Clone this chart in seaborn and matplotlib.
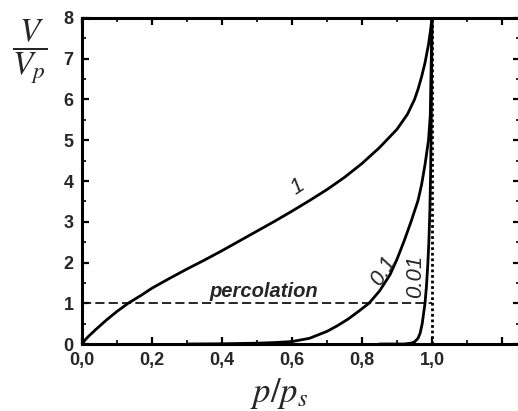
import matplotlib
matplotlib.use("Agg")
import matplotlib.pyplot as plt
import seaborn as sns
import pandas as pd
from matplotlib.ticker import MultipleLocator, FixedLocator, FixedFormatter

# ---- data ----
x_c1 = [0, 0.01, 0.02, 0.04, 0.07, 0.10, 0.132, 0.17, 0.20, 0.25, 0.30, 0.35, 0.40, 0.45,
        0.50, 0.55, 0.60, 0.65, 0.70, 0.75, 0.80, 0.85, 0.90, 0.93, 0.95, 0.96, 0.97,
        0.98, 0.99, 0.995, 1.0]
y_c1 = [0, 0.11, 0.20, 0.36, 0.59, 0.80, 1.0, 1.20, 1.37, 1.61, 1.84, 2.06, 2.29, 2.53,
        2.77, 3.01, 3.26, 3.52, 3.79, 4.09, 4.43, 4.82, 5.27, 5.64, 6.0, 6.25, 6.55,
        6.9, 7.35, 7.65, 8.0]

x_c01 = [0.30, 0.40, 0.50, 0.55, 0.60, 0.65, 0.70, 0.73, 0.76, 0.79, 0.82, 0.85, 0.88,
         0.90, 0.92, 0.94, 0.96, 0.97, 0.98, 0.99, 0.995, 1.0]
y_c01 = [0, 0.005, 0.02, 0.035, 0.06, 0.14, 0.31, 0.45, 0.61, 0.80, 1.0, 1.3, 1.7,
         2.08, 2.52, 3.0, 3.52, 3.9, 4.4, 5.0, 5.6, 8.0]

x_c001 = [0.85, 0.92, 0.94, 0.95, 0.96, 0.966, 0.972, 0.976, 0.98, 0.984, 0.988, 0.991,
          0.994, 0.996, 0.998, 1.0]
y_c001 = [0, 0.0, 0.02, 0.05, 0.14, 0.26, 0.5, 0.75, 1.0, 1.4, 1.95, 2.5,
          3.3, 4.2, 5.5, 8.0]

curve_labels = ["1", "0.1", "0.01"]
percolation_level = 1.0
saturation_x = 1.0
x_ticks = [0.0, 0.2, 0.4, 0.6, 0.8, 1.0, 1.2]
x_tick_labels = ["0,0", "0,2", "0,4", "0,6", "0,8", "1,0", ""]
y_ticks = [0, 1, 2, 3, 4, 5, 6, 7, 8]

frames = []
for lab, xs, ys in zip(curve_labels, [x_c1, x_c01, x_c001], [y_c1, y_c01, y_c001]):
    frames.append(pd.DataFrame({"x": xs, "y": ys, "curve": lab}))
df = pd.concat(frames, ignore_index=True)

sns.set_theme(style="ticks")
plt.rcParams["mathtext.fontset"] = "stix"
plt.rcParams["font.family"] = ["Liberation Sans", "DejaVu Sans"]

fig = plt.figure(figsize=(5.18, 4.11), dpi=100)
ax = fig.add_axes([82 / 518, (411 - 344) / 411, 437.5 / 518, 326 / 411])

sns.lineplot(data=df, x="x", y="y", units="curve", estimator=None, sort=False,
             color="black", linewidth=2.0, ax=ax, legend=False)

ax.plot([0, saturation_x], [percolation_level, percolation_level], color="black",
        linestyle=(0, (5.5, 2.5)), linewidth=1.2)
ax.plot([saturation_x, saturation_x], [0, 8], color="black", linestyle=(0, (1, 1)),
        linewidth=2.0)

ax.set_xlim(0, 1.25)
ax.set_ylim(0, 8)

ax.xaxis.set_major_locator(FixedLocator(x_ticks))
ax.xaxis.set_major_formatter(FixedFormatter(x_tick_labels))
ax.xaxis.set_minor_locator(MultipleLocator(0.1))
ax.yaxis.set_major_locator(FixedLocator(y_ticks))
ax.yaxis.set_minor_locator(MultipleLocator(0.5))

ax.tick_params(which="both", direction="in", top=True, right=True, color="black")
ax.tick_params(which="major", length=5, width=1.6, labelsize=13, pad=4)
ax.tick_params(which="minor", length=3, width=1.2)
ax.tick_params(axis="x", which="major", pad=6)
ax.tick_params(axis="y", which="major", pad=6)
for lab in ax.get_xticklabels() + ax.get_yticklabels():
    lab.set_fontweight("bold")

for sp in ax.spines.values():
    sp.set_linewidth(2.2)
    sp.set_color("black")

ax.set_xlabel("")
ax.set_ylabel("")

# curve annotations
ax.text(0.617, 3.85, "1", rotation=33, fontsize=16, style="italic",
        ha="center", va="center")
ax.text(0.862, 1.78, "0.1", rotation=58, fontsize=16, style="italic",
        ha="center", va="center")
ax.text(0.952, 1.65, "0.01", rotation=90, fontsize=16, style="italic",
        ha="center", va="center")
ax.text(0.52, 1.05, "percolation", fontsize=14.5, style="italic", fontweight="bold",
        ha="center", va="bottom")

fig.text(279 / 518, 1 - 393 / 411, r"$p/p_s$", fontsize=25, ha="center", va="center")
fig.text(30 / 518, 1 - 52 / 411, r"$\dfrac{V}{V_p}$", fontsize=24, ha="center",
         va="center")

fig.savefig("out.png", dpi=100)
